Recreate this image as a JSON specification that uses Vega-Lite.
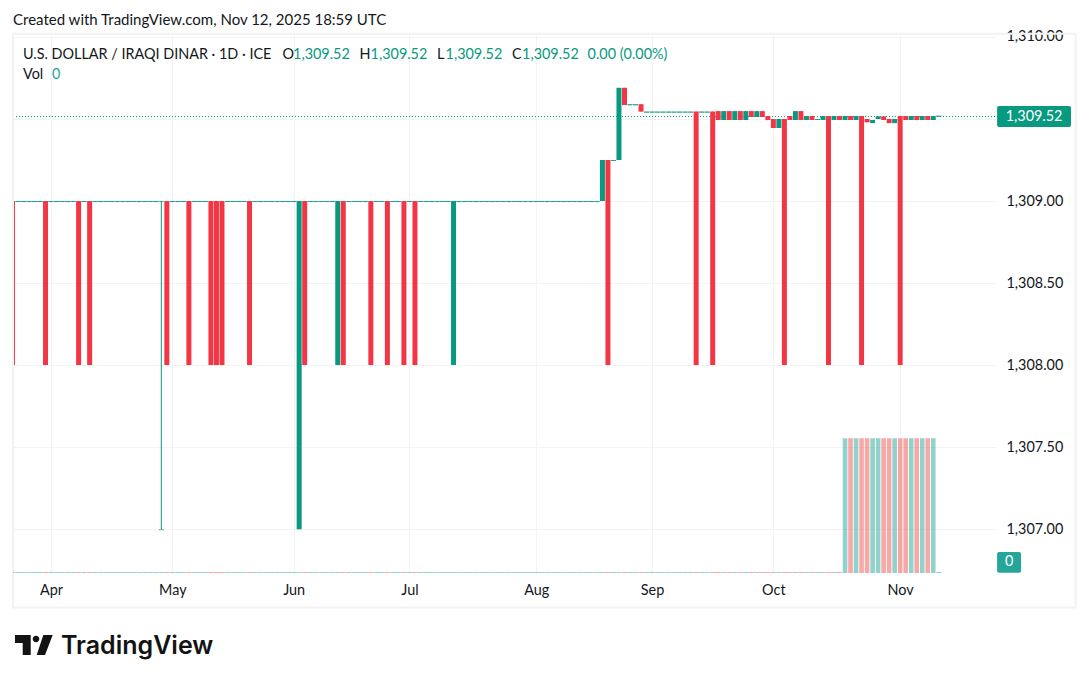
{
  "$schema": "https://vega.github.io/schema/vega-lite/v6.json",
  "autosize": "none",
  "width": 983,
  "height": 539,
  "padding": {"left": 13, "top": 34, "right": 93, "bottom": 110},
  "background": "#ffffff",
  "config": {
    "view": {"stroke": null},
    "text": {"font": "Lato", "fontSize": 14.4, "align": "left", "color": "#131722"},
    "axis": {"title": null, "ticks": false, "domain": false, "grid": true, "gridColor": "#f3f3f3", "labelColor": "#131722", "labelFont": "Lato", "labelFontSize": 14.4, "labelOverlap": false, "labelBound": false, "labelFlush": false}
  },
  "datasets": {
    "note": [{"n": 1}],
    "candles": [
      {"i":0,"o":1309,"c":1308,"h":1309,"l":1308,"v":0,"d":"d"},
      {"i":1,"o":1309,"c":1309,"h":1309,"l":1309,"v":0,"d":"u"},
      {"i":2,"o":1309,"c":1309,"h":1309,"l":1309,"v":0,"d":"u"},
      {"i":3,"o":1309,"c":1309,"h":1309,"l":1309,"v":0,"d":"u"},
      {"i":4,"o":1309,"c":1309,"h":1309,"l":1309,"v":0,"d":"u"},
      {"i":5,"o":1309,"c":1309,"h":1309,"l":1309,"v":0,"d":"u"},
      {"i":6,"o":1309,"c":1308,"h":1309,"l":1308,"v":0,"d":"d"},
      {"i":7,"o":1309,"c":1309,"h":1309,"l":1309,"v":0,"d":"u"},
      {"i":8,"o":1309,"c":1309,"h":1309,"l":1309,"v":0,"d":"u"},
      {"i":9,"o":1309,"c":1309,"h":1309,"l":1309,"v":0,"d":"u"},
      {"i":10,"o":1309,"c":1309,"h":1309,"l":1309,"v":0,"d":"u"},
      {"i":11,"o":1309,"c":1309,"h":1309,"l":1309,"v":0,"d":"u"},
      {"i":12,"o":1309,"c":1308,"h":1309,"l":1308,"v":0,"d":"d"},
      {"i":13,"o":1309,"c":1309,"h":1309,"l":1309,"v":0,"d":"u"},
      {"i":14,"o":1309,"c":1308,"h":1309,"l":1308,"v":0,"d":"d"},
      {"i":15,"o":1309,"c":1309,"h":1309,"l":1309,"v":0,"d":"u"},
      {"i":16,"o":1309,"c":1309,"h":1309,"l":1309,"v":0,"d":"u"},
      {"i":17,"o":1309,"c":1309,"h":1309,"l":1309,"v":0,"d":"u"},
      {"i":18,"o":1309,"c":1309,"h":1309,"l":1309,"v":0,"d":"u"},
      {"i":19,"o":1309,"c":1309,"h":1309,"l":1309,"v":0,"d":"u"},
      {"i":20,"o":1309,"c":1309,"h":1309,"l":1309,"v":0,"d":"u"},
      {"i":21,"o":1309,"c":1309,"h":1309,"l":1309,"v":0,"d":"u"},
      {"i":22,"o":1309,"c":1309,"h":1309,"l":1309,"v":0,"d":"u"},
      {"i":23,"o":1309,"c":1309,"h":1309,"l":1309,"v":0,"d":"u"},
      {"i":24,"o":1309,"c":1309,"h":1309,"l":1309,"v":0,"d":"u"},
      {"i":25,"o":1309,"c":1309,"h":1309,"l":1309,"v":0,"d":"u"},
      {"i":26,"o":1309,"c":1309,"h":1309,"l":1309,"v":0,"d":"u"},
      {"i":27,"o":1309,"c":1309,"h":1309,"l":1307,"v":0,"d":"u"},
      {"i":28,"o":1309,"c":1308,"h":1309,"l":1308,"v":0,"d":"d"},
      {"i":29,"o":1309,"c":1309,"h":1309,"l":1309,"v":0,"d":"u"},
      {"i":30,"o":1309,"c":1309,"h":1309,"l":1309,"v":0,"d":"u"},
      {"i":31,"o":1309,"c":1309,"h":1309,"l":1309,"v":0,"d":"u"},
      {"i":32,"o":1309,"c":1308,"h":1309,"l":1308,"v":0,"d":"d"},
      {"i":33,"o":1309,"c":1309,"h":1309,"l":1309,"v":0,"d":"u"},
      {"i":34,"o":1309,"c":1309,"h":1309,"l":1309,"v":0,"d":"u"},
      {"i":35,"o":1309,"c":1309,"h":1309,"l":1309,"v":0,"d":"u"},
      {"i":36,"o":1309,"c":1308,"h":1309,"l":1308,"v":0,"d":"d"},
      {"i":37,"o":1309,"c":1308,"h":1309,"l":1308,"v":0,"d":"d"},
      {"i":38,"o":1309,"c":1308,"h":1309,"l":1308,"v":0,"d":"d"},
      {"i":39,"o":1309,"c":1309,"h":1309,"l":1309,"v":0,"d":"u"},
      {"i":40,"o":1309,"c":1309,"h":1309,"l":1309,"v":0,"d":"u"},
      {"i":41,"o":1309,"c":1309,"h":1309,"l":1309,"v":0,"d":"u"},
      {"i":42,"o":1309,"c":1309,"h":1309,"l":1309,"v":0,"d":"u"},
      {"i":43,"o":1309,"c":1308,"h":1309,"l":1308,"v":0,"d":"d"},
      {"i":44,"o":1309,"c":1309,"h":1309,"l":1309,"v":0,"d":"u"},
      {"i":45,"o":1309,"c":1309,"h":1309,"l":1309,"v":0,"d":"u"},
      {"i":46,"o":1309,"c":1309,"h":1309,"l":1309,"v":0,"d":"u"},
      {"i":47,"o":1309,"c":1309,"h":1309,"l":1309,"v":0,"d":"u"},
      {"i":48,"o":1309,"c":1309,"h":1309,"l":1309,"v":0,"d":"u"},
      {"i":49,"o":1309,"c":1309,"h":1309,"l":1309,"v":0,"d":"u"},
      {"i":50,"o":1309,"c":1309,"h":1309,"l":1309,"v":0,"d":"u"},
      {"i":51,"o":1309,"c":1309,"h":1309,"l":1309,"v":0,"d":"u"},
      {"i":52,"o":1307,"c":1309,"h":1309,"l":1307,"v":0,"d":"u"},
      {"i":53,"o":1309,"c":1308,"h":1309,"l":1308,"v":0,"d":"d"},
      {"i":54,"o":1309,"c":1309,"h":1309,"l":1309,"v":0,"d":"u"},
      {"i":55,"o":1309,"c":1309,"h":1309,"l":1309,"v":0,"d":"u"},
      {"i":56,"o":1309,"c":1309,"h":1309,"l":1309,"v":0,"d":"u"},
      {"i":57,"o":1309,"c":1309,"h":1309,"l":1309,"v":0,"d":"u"},
      {"i":58,"o":1309,"c":1309,"h":1309,"l":1309,"v":0,"d":"u"},
      {"i":59,"o":1308,"c":1309,"h":1309,"l":1308,"v":0,"d":"u"},
      {"i":60,"o":1309,"c":1308,"h":1309,"l":1308,"v":0,"d":"d"},
      {"i":61,"o":1309,"c":1309,"h":1309,"l":1309,"v":0,"d":"u"},
      {"i":62,"o":1309,"c":1309,"h":1309,"l":1309,"v":0,"d":"u"},
      {"i":63,"o":1309,"c":1309,"h":1309,"l":1309,"v":0,"d":"u"},
      {"i":64,"o":1309,"c":1309,"h":1309,"l":1309,"v":0,"d":"u"},
      {"i":65,"o":1309,"c":1308,"h":1309,"l":1308,"v":0,"d":"d"},
      {"i":66,"o":1309,"c":1309,"h":1309,"l":1309,"v":0,"d":"u"},
      {"i":67,"o":1309,"c":1309,"h":1309,"l":1309,"v":0,"d":"u"},
      {"i":68,"o":1309,"c":1308,"h":1309,"l":1308,"v":0,"d":"d"},
      {"i":69,"o":1309,"c":1309,"h":1309,"l":1309,"v":0,"d":"u"},
      {"i":70,"o":1309,"c":1309,"h":1309,"l":1309,"v":0,"d":"u"},
      {"i":71,"o":1309,"c":1308,"h":1309,"l":1308,"v":0,"d":"d"},
      {"i":72,"o":1309,"c":1309,"h":1309,"l":1309,"v":0,"d":"u"},
      {"i":73,"o":1309,"c":1308,"h":1309,"l":1308,"v":0,"d":"d"},
      {"i":74,"o":1309,"c":1309,"h":1309,"l":1309,"v":0,"d":"u"},
      {"i":75,"o":1309,"c":1309,"h":1309,"l":1309,"v":0,"d":"u"},
      {"i":76,"o":1309,"c":1309,"h":1309,"l":1309,"v":0,"d":"u"},
      {"i":77,"o":1309,"c":1309,"h":1309,"l":1309,"v":0,"d":"u"},
      {"i":78,"o":1309,"c":1309,"h":1309,"l":1309,"v":0,"d":"u"},
      {"i":79,"o":1309,"c":1309,"h":1309,"l":1309,"v":0,"d":"u"},
      {"i":80,"o":1308,"c":1309,"h":1309,"l":1308,"v":0,"d":"u"},
      {"i":81,"o":1309,"c":1309,"h":1309,"l":1309,"v":0,"d":"u"},
      {"i":82,"o":1309,"c":1309,"h":1309,"l":1309,"v":0,"d":"u"},
      {"i":83,"o":1309,"c":1309,"h":1309,"l":1309,"v":0,"d":"u"},
      {"i":84,"o":1309,"c":1309,"h":1309,"l":1309,"v":0,"d":"u"},
      {"i":85,"o":1309,"c":1309,"h":1309,"l":1309,"v":0,"d":"u"},
      {"i":86,"o":1309,"c":1309,"h":1309,"l":1309,"v":0,"d":"u"},
      {"i":87,"o":1309,"c":1309,"h":1309,"l":1309,"v":0,"d":"u"},
      {"i":88,"o":1309,"c":1309,"h":1309,"l":1309,"v":0,"d":"u"},
      {"i":89,"o":1309,"c":1309,"h":1309,"l":1309,"v":0,"d":"u"},
      {"i":90,"o":1309,"c":1309,"h":1309,"l":1309,"v":0,"d":"u"},
      {"i":91,"o":1309,"c":1309,"h":1309,"l":1309,"v":0,"d":"u"},
      {"i":92,"o":1309,"c":1309,"h":1309,"l":1309,"v":0,"d":"u"},
      {"i":93,"o":1309,"c":1309,"h":1309,"l":1309,"v":0,"d":"u"},
      {"i":94,"o":1309,"c":1309,"h":1309,"l":1309,"v":0,"d":"u"},
      {"i":95,"o":1309,"c":1309,"h":1309,"l":1309,"v":0,"d":"u"},
      {"i":96,"o":1309,"c":1309,"h":1309,"l":1309,"v":0,"d":"u"},
      {"i":97,"o":1309,"c":1309,"h":1309,"l":1309,"v":0,"d":"u"},
      {"i":98,"o":1309,"c":1309,"h":1309,"l":1309,"v":0,"d":"u"},
      {"i":99,"o":1309,"c":1309,"h":1309,"l":1309,"v":0,"d":"u"},
      {"i":100,"o":1309,"c":1309,"h":1309,"l":1309,"v":0,"d":"u"},
      {"i":101,"o":1309,"c":1309,"h":1309,"l":1309,"v":0,"d":"u"},
      {"i":102,"o":1309,"c":1309,"h":1309,"l":1309,"v":0,"d":"u"},
      {"i":103,"o":1309,"c":1309,"h":1309,"l":1309,"v":0,"d":"u"},
      {"i":104,"o":1309,"c":1309,"h":1309,"l":1309,"v":0,"d":"u"},
      {"i":105,"o":1309,"c":1309,"h":1309,"l":1309,"v":0,"d":"u"},
      {"i":106,"o":1309,"c":1309,"h":1309,"l":1309,"v":0,"d":"u"},
      {"i":107,"o":1309,"c":1309.25,"h":1309.25,"l":1309,"v":0,"d":"u"},
      {"i":108,"o":1309.25,"c":1308,"h":1309.25,"l":1308,"v":0,"d":"d"},
      {"i":109,"o":1309.25,"c":1309.25,"h":1309.25,"l":1309.25,"v":0,"d":"u"},
      {"i":110,"o":1309.25,"c":1309.69,"h":1309.69,"l":1309.25,"v":0,"d":"u"},
      {"i":111,"o":1309.69,"c":1309.585,"h":1309.69,"l":1309.585,"v":0,"d":"d"},
      {"i":112,"o":1309.59,"c":1309.59,"h":1309.59,"l":1309.59,"v":0,"d":"u"},
      {"i":113,"o":1309.59,"c":1309.59,"h":1309.59,"l":1309.59,"v":0,"d":"u"},
      {"i":114,"o":1309.59,"c":1309.545,"h":1309.59,"l":1309.545,"v":0,"d":"d"},
      {"i":115,"o":1309.545,"c":1309.545,"h":1309.545,"l":1309.545,"v":0,"d":"u"},
      {"i":116,"o":1309.545,"c":1309.545,"h":1309.545,"l":1309.545,"v":0,"d":"u"},
      {"i":117,"o":1309.545,"c":1309.545,"h":1309.545,"l":1309.545,"v":0,"d":"u"},
      {"i":118,"o":1309.545,"c":1309.545,"h":1309.545,"l":1309.545,"v":0,"d":"u"},
      {"i":119,"o":1309.545,"c":1309.545,"h":1309.545,"l":1309.545,"v":0,"d":"u"},
      {"i":120,"o":1309.545,"c":1309.545,"h":1309.545,"l":1309.545,"v":0,"d":"u"},
      {"i":121,"o":1309.545,"c":1309.545,"h":1309.545,"l":1309.545,"v":0,"d":"u"},
      {"i":122,"o":1309.545,"c":1309.545,"h":1309.545,"l":1309.545,"v":0,"d":"u"},
      {"i":123,"o":1309.545,"c":1309.545,"h":1309.545,"l":1309.545,"v":0,"d":"u"},
      {"i":124,"o":1309.545,"c":1308,"h":1309.545,"l":1308,"v":0,"d":"d"},
      {"i":125,"o":1309.545,"c":1309.545,"h":1309.545,"l":1309.545,"v":0,"d":"u"},
      {"i":126,"o":1309.545,"c":1309.545,"h":1309.545,"l":1309.545,"v":0,"d":"u"},
      {"i":127,"o":1309.545,"c":1308,"h":1309.545,"l":1308,"v":0,"d":"d"},
      {"i":128,"o":1309.548,"c":1309.494,"h":1309.548,"l":1309.494,"v":0,"d":"d"},
      {"i":129,"o":1309.494,"c":1309.548,"h":1309.548,"l":1309.494,"v":0,"d":"u"},
      {"i":130,"o":1309.548,"c":1309.494,"h":1309.548,"l":1309.494,"v":0,"d":"d"},
      {"i":131,"o":1309.494,"c":1309.548,"h":1309.548,"l":1309.494,"v":0,"d":"u"},
      {"i":132,"o":1309.548,"c":1309.494,"h":1309.548,"l":1309.494,"v":0,"d":"d"},
      {"i":133,"o":1309.494,"c":1309.548,"h":1309.548,"l":1309.494,"v":0,"d":"u"},
      {"i":134,"o":1309.548,"c":1309.512,"h":1309.548,"l":1309.512,"v":0,"d":"d"},
      {"i":135,"o":1309.512,"c":1309.548,"h":1309.548,"l":1309.512,"v":0,"d":"u"},
      {"i":136,"o":1309.548,"c":1309.512,"h":1309.548,"l":1309.512,"v":0,"d":"d"},
      {"i":137,"o":1309.518,"c":1309.494,"h":1309.518,"l":1309.494,"v":0,"d":"d"},
      {"i":138,"o":1309.5,"c":1309.445,"h":1309.5,"l":1309.445,"v":0,"d":"d"},
      {"i":139,"o":1309.445,"c":1309.5,"h":1309.5,"l":1309.445,"v":0,"d":"u"},
      {"i":140,"o":1309.5,"c":1308,"h":1309.5,"l":1308,"v":0,"d":"d"},
      {"i":141,"o":1309.518,"c":1309.494,"h":1309.518,"l":1309.494,"v":0,"d":"d"},
      {"i":142,"o":1309.494,"c":1309.548,"h":1309.548,"l":1309.494,"v":0,"d":"u"},
      {"i":143,"o":1309.548,"c":1309.494,"h":1309.548,"l":1309.494,"v":0,"d":"d"},
      {"i":144,"o":1309.494,"c":1309.518,"h":1309.518,"l":1309.494,"v":0,"d":"u"},
      {"i":145,"o":1309.518,"c":1309.494,"h":1309.518,"l":1309.494,"v":0,"d":"d"},
      {"i":146,"o":1309.5,"c":1309.5,"h":1309.5,"l":1309.5,"v":0,"d":"u"},
      {"i":147,"o":1309.494,"c":1309.518,"h":1309.518,"l":1309.494,"v":0,"d":"u"},
      {"i":148,"o":1309.518,"c":1308,"h":1309.518,"l":1308,"v":0,"d":"d"},
      {"i":149,"o":1309.494,"c":1309.518,"h":1309.518,"l":1309.494,"v":0,"d":"u"},
      {"i":150,"o":1309.518,"c":1309.494,"h":1309.518,"l":1309.494,"v":0,"d":"d"},
      {"i":151,"o":1309.494,"c":1309.518,"h":1309.518,"l":1309.494,"v":1,"d":"u"},
      {"i":152,"o":1309.518,"c":1309.494,"h":1309.518,"l":1309.494,"v":1,"d":"d"},
      {"i":153,"o":1309.494,"c":1309.518,"h":1309.518,"l":1309.494,"v":1,"d":"u"},
      {"i":154,"o":1309.518,"c":1308,"h":1309.518,"l":1308,"v":1,"d":"d"},
      {"i":155,"o":1309.5,"c":1309.48,"h":1309.5,"l":1309.48,"v":1,"d":"d"},
      {"i":156,"o":1309.475,"c":1309.494,"h":1309.494,"l":1309.475,"v":1,"d":"u"},
      {"i":157,"o":1309.5,"c":1309.516,"h":1309.516,"l":1309.5,"v":1,"d":"u"},
      {"i":158,"o":1309.516,"c":1309.494,"h":1309.516,"l":1309.494,"v":1,"d":"d"},
      {"i":159,"o":1309.5,"c":1309.475,"h":1309.5,"l":1309.475,"v":1,"d":"d"},
      {"i":160,"o":1309.475,"c":1309.5,"h":1309.5,"l":1309.475,"v":1,"d":"u"},
      {"i":161,"o":1309.518,"c":1308,"h":1309.518,"l":1308,"v":1,"d":"d"},
      {"i":162,"o":1309.518,"c":1309.494,"h":1309.518,"l":1309.494,"v":1,"d":"d"},
      {"i":163,"o":1309.494,"c":1309.518,"h":1309.518,"l":1309.494,"v":1,"d":"u"},
      {"i":164,"o":1309.518,"c":1309.494,"h":1309.518,"l":1309.494,"v":1,"d":"d"},
      {"i":165,"o":1309.494,"c":1309.518,"h":1309.518,"l":1309.494,"v":1,"d":"u"},
      {"i":166,"o":1309.518,"c":1309.494,"h":1309.518,"l":1309.494,"v":1,"d":"d"},
      {"i":167,"o":1309.494,"c":1309.518,"h":1309.518,"l":1309.494,"v":1,"d":"u"},
      {"i":168,"o":1309.52,"c":1309.52,"h":1309.52,"l":1309.52,"v":0,"d":"u"}
    ]
  },
  "data": {"name": "candles"},
  "layer": [
    {
      "layer": [
        {
          "data": {"name": "note"},
          "mark": {"type": "rule", "color": "#089981", "strokeWidth": 1, "strokeDash": [1, 2]},
          "encoding": {
            "x": {"datum": 0.1},
            "x2": {"datum": 178.38},
            "y": {"datum": 1309.515}
          }
        },
        {
          "mark": {"type": "rule", "strokeWidth": 1, "clip": true},
          "encoding": {
            "x": {
              "field": "i",
              "type": "quantitative",
              "scale": {"domain": [0.1, 178.38], "nice": false, "zero": false, "padding": 0},
              "axis": {
                "values": [7, 29, 51, 72, 95, 116, 138, 161],
                "labelExpr": "{7: 'Apr', 29: 'May', 51: 'Jun', 72: 'Jul', 95: 'Aug', 116: 'Sep', 138: 'Oct', 161: 'Nov'}[datum.value]",
                "labelPadding": 10
              }
            },
            "y": {"field": "l", "type": "quantitative", "scale": {"domain": [1306.733, 1310.018], "nice": false, "zero": false}, "axis": {"values": [1307, 1307.5, 1308, 1308.5, 1309, 1309.5, 1310], "labelExpr": "datum.value == 1309.5 ? '' : format(datum.value, ',.2f')", "orient": "right", "labelPadding": 10}},
            "y2": {"field": "h"},
            "color": {"field": "d", "type": "nominal", "scale": {"domain": ["u", "d"], "range": ["#089981", "#f23645"]}, "legend": null}
          }
        },
        {
          "transform": [{"filter": "datum.o != datum.c"}],
          "mark": {"type": "bar", "orient": "vertical", "size": 5, "clip": true},
          "encoding": {
            "x": {"field": "i", "type": "quantitative"},
            "y": {"field": "o", "type": "quantitative"},
            "y2": {"field": "c"},
            "color": {"field": "d", "type": "nominal", "legend": null}
          }
        },
        {
          "transform": [{"filter": "datum.o == datum.c"}],
          "mark": {"type": "tick", "orient": "horizontal", "size": 5, "thickness": 1, "color": "#089981", "yOffset": 0.5},
          "encoding": {"x": {"field": "i", "type": "quantitative"}, "y": {"field": "c", "type": "quantitative"}}
        },
        {
          "transform": [{"filter": "datum.o == datum.c"}],
          "mark": {"type": "tick", "orient": "horizontal", "size": 5, "thickness": 1, "color": "#089981", "yOffset": 0.5},
          "encoding": {"x": {"field": "i", "type": "quantitative"}, "y": {"field": "l", "type": "quantitative"}}
        },
        {"data": {"name": "note"}, "mark": {"type": "rule", "color": "#f2f2f2", "strokeWidth": 2}, "encoding": {"x": {"datum": 0.1}, "x2": {"datum": 192.83}, "y": {"datum": 1310.02}}},
        {"data": {"name": "note"}, "mark": {"type": "rule", "color": "#f2f2f2", "strokeWidth": 2}, "encoding": {"x": {"datum": 0.1}, "x2": {"datum": 192.83}, "y": {"datum": 1306.523}}},
        {"data": {"name": "note"}, "mark": {"type": "rule", "color": "#f2f2f2", "strokeWidth": 2}, "encoding": {"x": {"datum": 0.1}, "y": {"datum": 1310.02}, "y2": {"datum": 1306.523}}},
        {"data": {"name": "note"}, "mark": {"type": "rule", "color": "#f2f2f2", "strokeWidth": 2}, "encoding": {"x": {"datum": 192.83}, "y": {"datum": 1310.02}, "y2": {"datum": 1306.523}}},
        {"data": {"name": "note"}, "mark": {"type": "rect", "color": "#089981", "cornerRadius": 2}, "encoding": {"x": {"datum": 178.58}, "x2": {"datum": 191.98}, "y": {"datum": 1309.579}, "y2": {"datum": 1309.451}}},
        {"data": {"name": "note"}, "mark": {"type": "text", "text": "1,309.52", "color": "#ffffff", "align": "center", "fontSize": 14.4}, "encoding": {"x": {"datum": 185.28}, "y": {"datum": 1309.515}}},
        {"data": {"name": "note"}, "mark": {"type": "rect", "color": "#26a69a", "cornerRadius": 2}, "encoding": {"x": {"datum": 178.58}, "x2": {"datum": 182.93}, "y": {"datum": 1306.861}, "y2": {"datum": 1306.735}}},
        {"data": {"name": "note"}, "mark": {"type": "text", "text": "0", "color": "#ffffff", "align": "center", "fontSize": 14.4}, "encoding": {"x": {"datum": 180.78}, "y": {"datum": 1306.797}}},
        {"data": {"name": "note"}, "mark": {"type": "text", "text": "Created with TradingView.com, Nov 12, 2025 18:59 UTC", "fontSize": 15}, "encoding": {"x": {"datum": 0.1}, "y": {"datum": 1310.103}}},
        {"data": {"name": "note"}, "mark": {"type": "text", "text": "U.S. DOLLAR / IRAQI DINAR · 1D · ICE"}, "encoding": {"x": {"datum": 1.91}, "y": {"datum": 1309.89}}},
        {"data": {"name": "note"}, "mark": {"type": "text", "text": "O"}, "encoding": {"x": {"datum": 48.98}, "y": {"datum": 1309.89}}},
        {"data": {"name": "note"}, "mark": {"type": "text", "text": "1,309.52", "color": "#089981"}, "encoding": {"x": {"datum": 50.89}, "y": {"datum": 1309.89}}},
        {"data": {"name": "note"}, "mark": {"type": "text", "text": "H"}, "encoding": {"x": {"datum": 62.95}, "y": {"datum": 1309.89}}},
        {"data": {"name": "note"}, "mark": {"type": "text", "text": "1,309.52", "color": "#089981"}, "encoding": {"x": {"datum": 64.95}, "y": {"datum": 1309.89}}},
        {"data": {"name": "note"}, "mark": {"type": "text", "text": "L"}, "encoding": {"x": {"datum": 77.01}, "y": {"datum": 1309.89}}},
        {"data": {"name": "note"}, "mark": {"type": "text", "text": "1,309.52", "color": "#089981"}, "encoding": {"x": {"datum": 78.55}, "y": {"datum": 1309.89}}},
        {"data": {"name": "note"}, "mark": {"type": "text", "text": "C"}, "encoding": {"x": {"datum": 90.61}, "y": {"datum": 1309.89}}},
        {"data": {"name": "note"}, "mark": {"type": "text", "text": "1,309.52", "color": "#089981"}, "encoding": {"x": {"datum": 92.42}, "y": {"datum": 1309.89}}},
        {"data": {"name": "note"}, "mark": {"type": "text", "text": "0.00 (0.00%)", "color": "#089981"}, "encoding": {"x": {"datum": 104.31}, "y": {"datum": 1309.89}}},
        {"data": {"name": "note"}, "mark": {"type": "text", "text": "Vol"}, "encoding": {"x": {"datum": 1.91}, "y": {"datum": 1309.768}}},
        {"data": {"name": "note"}, "mark": {"type": "text", "text": "0", "color": "#26a69a"}, "encoding": {"x": {"datum": 7.17}, "y": {"datum": 1309.768}}},
        {"data": {"name": "note"}, "mark": {"type": "point", "filled": true, "opacity": 1, "color": "#131313", "size": 1600, "shape": "M-0.95 -0.5L-0.165 -0.5L-0.165 0.5L-0.565 0.5L-0.565 -0.1L-0.95 -0.1ZM-0.065 -0.3a0.165 0.165 0 1 0 0.33 0a0.165 0.165 0 1 0 -0.33 0ZM0.465 -0.5L0.935 -0.5L0.55 0.5L0.135 0.5Z"}, "encoding": {"x": {"datum": 3.91}, "y": {"datum": 1306.294}}},
        {"data": {"name": "note"}, "mark": {"type": "text", "text": "TradingView", "font": "Inter", "fontWeight": 600, "fontSize": 25, "color": "#131313"}, "encoding": {"x": {"datum": 8.8}, "y": {"datum": 1306.288}}}
      ]
    },
    {
      "layer": [
        {
          "transform": [{"filter": "datum.v > 0"}],
          "mark": {"type": "bar", "orient": "vertical", "size": 4.6, "opacity": 0.5},
          "encoding": {
            "x": {"field": "i", "type": "quantitative"},
            "y": {"field": "v", "type": "quantitative", "scale": {"domain": [0, 4], "nice": false}, "axis": null},
            "color": {"field": "d", "type": "nominal", "scale": {"domain": ["u", "d"], "range": ["#26a69a", "#ef5350"]}, "legend": null}
          }
        },
        {
          "transform": [{"filter": "datum.v == 0"}],
          "mark": {"type": "tick", "orient": "horizontal", "size": 5, "thickness": 1, "opacity": 0.5, "yOffset": -0.5, "clip": true},
          "encoding": {
            "x": {"field": "i", "type": "quantitative"},
            "y": {"field": "v", "type": "quantitative"},
            "color": {"field": "d", "type": "nominal", "legend": null}
          }
        }
      ]
    }
  ],
  "resolve": {"scale": {"y": "independent", "color": "independent"}, "axis": {"y": "independent"}}
}
